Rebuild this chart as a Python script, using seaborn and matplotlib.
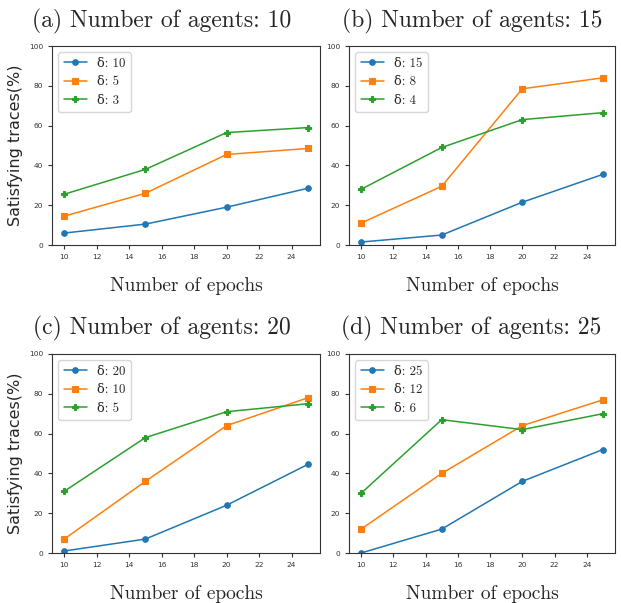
import matplotlib
matplotlib.use("Agg")
import matplotlib.pyplot as plt
import seaborn as sns
import pandas as pd

epochs = [10, 15, 20, 25]

panel_titles = ["(a) Number of agents: 10", "(b) Number of agents: 15",
                "(c) Number of agents: 20", "(d) Number of agents: 25"]

labels_a = ["δ: 10", "δ: 5", "δ: 3"]
a_d10 = [6.0, 10.5, 19.0, 28.5]
a_d5 = [14.5, 26.0, 45.5, 48.5]
a_d3 = [25.5, 38.0, 56.5, 59.0]

labels_b = ["δ: 15", "δ: 8", "δ: 4"]
b_d15 = [1.5, 5.0, 21.5, 35.5]
b_d8 = [11.0, 29.5, 78.5, 84.0]
b_d4 = [28.0, 49.0, 63.0, 66.5]

labels_c = ["δ: 20", "δ: 10", "δ: 5"]
c_d20 = [1.0, 7.0, 24.0, 44.5]
c_d10 = [7.0, 36.0, 64.0, 78.0]
c_d5 = [31.0, 58.0, 71.0, 75.0]

labels_d = ["δ: 25", "δ: 12", "δ: 6"]
d_d25 = [0.0, 12.0, 36.0, 52.0]
d_d12 = [12.0, 40.0, 64.0, 77.0]
d_d6 = [30.0, 67.0, 62.0, 70.0]

panels = [
    (labels_a, [a_d10, a_d5, a_d3]),
    (labels_b, [b_d15, b_d8, b_d4]),
    (labels_c, [c_d20, c_d10, c_d5]),
    (labels_d, [d_d25, d_d12, d_d6]),
]

sns.set_style("white")
plt.rcParams["font.family"] = ["DejaVu Sans"]
serif = ["cmr10", "DejaVu Serif"]

W, H = 621, 603
fig = plt.figure(figsize=(W / 100, H / 100), dpi=100)

# axes boxes in pixels: left, top, right, bottom
boxes = [(52, 46, 320, 245), (349, 46, 615, 245),
         (52, 354, 320, 553), (349, 354, 615, 553)]
title_pos = [(162, 21), (472, 21), (162, 328), (471, 328)]

palette = sns.color_palette("tab10", 3)

for i, ((labels, series), box) in enumerate(zip(panels, boxes)):
    l, t, r, b = box
    ax = fig.add_axes([l / W, 1 - b / H, (r - l) / W, (b - t) / H])
    rows = []
    for lab, vals in zip(labels, series):
        for e, v in zip(epochs, vals):
            rows.append({"epochs": e, "value": v, "series": lab})
    df = pd.DataFrame(rows)
    sns.lineplot(data=df, x="epochs", y="value", hue="series", style="series",
                 hue_order=labels, style_order=labels, palette=palette,
                 markers=["o", "s", "P"], dashes=False, legend=False,
                 markersize=4, markeredgewidth=0.8, linewidth=1.1, ax=ax)
    for ln in ax.lines:
        ln.set_markeredgecolor(ln.get_color())
    ax.set_ylim(0, 100)
    ax.set_xticks([10, 12, 14, 16, 18, 20, 22, 24])
    ax.set_yticks([0, 20, 40, 60, 80, 100])
    ax.tick_params(axis="both", labelsize=5.3, length=3, width=0.8,
                   colors="#333333", labelcolor="#333333", bottom=True, left=True)
    for s in ax.spines.values():
        s.set_color("#333333")
        s.set_linewidth(0.8)
    ax.set_xlabel("Number of epochs", family=serif, fontsize=14, labelpad=12)
    if i % 2 == 0:
        ax.set_ylabel("Satisfying traces(%)", fontsize=11.5, labelpad=4)
    else:
        ax.set_ylabel("")
    ax.legend(ax.lines[:3], labels, loc="upper left",
              prop={"family": serif, "size": 9.3}, frameon=True,
              handlelength=1.8, borderaxespad=0.5)
    tx, ty = title_pos[i]
    fig.text(tx / W, 1 - ty / H, panel_titles[i], family=serif, fontsize=17,
             ha="center", va="center")

fig.savefig("out.png", dpi=100)
